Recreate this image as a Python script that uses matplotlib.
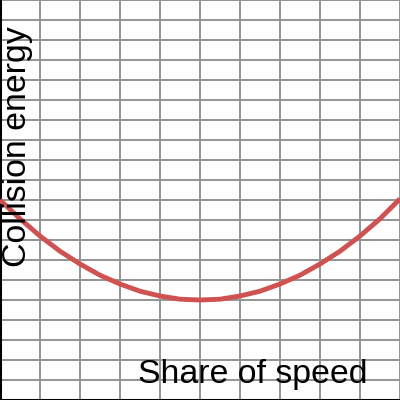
import numpy as np
import matplotlib
matplotlib.use("Agg")
import matplotlib.pyplot as plt

# share of speed (x) and collision energy (y)
share = [0.0, 0.05, 0.1, 0.15, 0.2, 0.25, 0.3, 0.35, 0.4, 0.45, 0.5,
         0.55, 0.6, 0.65, 0.7, 0.75, 0.8, 0.85, 0.9, 0.95, 1.0]
energy = [0.50, 0.453, 0.41, 0.372, 0.34, 0.312, 0.29, 0.272, 0.26, 0.252, 0.25,
          0.252, 0.26, 0.272, 0.29, 0.312, 0.34, 0.372, 0.41, 0.453, 0.503]

plt.rcParams['font.family'] = ['Liberation Sans', 'DejaVu Sans']

fig = plt.figure(figsize=(4, 4), dpi=100)
ax = fig.add_axes([0, 0, 1, 1])

ax.plot(share, energy, color="#d05250", linewidth=3.5, solid_capstyle="butt", zorder=3)

ax.set_xlim(0, 1)
ax.set_ylim(0, 1)
ax.set_xticks(np.arange(0, 1.001, 0.1))
ax.set_yticks(np.arange(0, 1.001, 0.05))
ax.grid(True, color="#949494", linewidth=1.4)
ax.tick_params(length=0, labelbottom=False, labelleft=False)

ax.spines['top'].set_visible(False)
ax.spines['right'].set_visible(False)
ax.spines['left'].set_linewidth(2.2)
ax.spines['bottom'].set_linewidth(2.2)

ax.text(0.92, 0.042, "Share of speed", fontsize=24.4, ha="right", va="baseline",
        transform=ax.transAxes, zorder=4)
ax.text(0.005, 0.332, "Collision energy", fontsize=24.4, rotation=90,
        ha="left", va="bottom", transform=ax.transAxes, zorder=4)

fig.savefig("out.png", dpi=100)
